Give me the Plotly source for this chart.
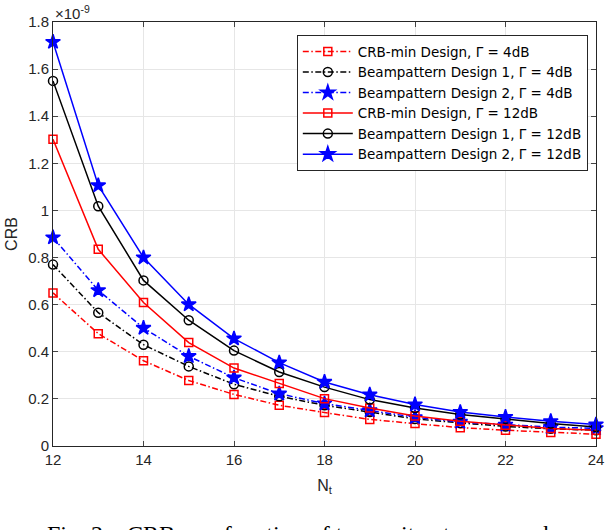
import plotly.graph_objects as go

# Number of transmit antennas
nt = [12, 13, 14, 15, 16, 17, 18, 19, 20, 21, 22, 23, 24]

# CRB values (x 1e-9)
crb_min_4db = [0.650, 0.477, 0.362, 0.278, 0.219, 0.173, 0.142, 0.113, 0.095, 0.078, 0.067, 0.057, 0.050]
bp1_4db     = [0.770, 0.566, 0.430, 0.338, 0.262, 0.211, 0.173, 0.144, 0.115, 0.098, 0.083, 0.073, 0.067]
bp2_4db     = [0.885, 0.661, 0.501, 0.381, 0.290, 0.222, 0.180, 0.151, 0.122, 0.102, 0.090, 0.080, 0.075]
crb_min_12db = [1.302, 0.835, 0.609, 0.439, 0.331, 0.265, 0.201, 0.161, 0.127, 0.105, 0.088, 0.074, 0.067]
bp1_12db     = [1.550, 1.018, 0.703, 0.534, 0.405, 0.314, 0.250, 0.197, 0.161, 0.134, 0.115, 0.095, 0.081]
bp2_12db     = [1.715, 1.106, 0.800, 0.601, 0.456, 0.354, 0.272, 0.218, 0.176, 0.144, 0.123, 0.105, 0.091]

y_ticks = [0, 0.2, 0.4, 0.6, 0.8, 1.0, 1.2, 1.4, 1.6, 1.8]
x_ticks = [12, 14, 16, 18, 20, 22, 24]

DASHDOT = "6px,2.5px,1.5px,2.5px"
series = [
    ("CRB-min Design, Γ = 4dB", crb_min_4db, "red", DASHDOT, "square-open", 8),
    ("Beampattern Design 1, Γ = 4dB", bp1_4db, "black", DASHDOT, "circle-open", 9),
    ("Beampattern Design 2, Γ = 4dB", bp2_4db, "blue", DASHDOT, "star", 11),
    ("CRB-min Design, Γ = 12dB", crb_min_12db, "red", "solid", "square-open", 8),
    ("Beampattern Design 1, Γ = 12dB", bp1_12db, "black", "solid", "circle-open", 9),
    ("Beampattern Design 2, Γ = 12dB", bp2_12db, "blue", "solid", "star", 11),
]

fig = go.Figure()
for name, vals, color, dash, sym, size in series:
    fig.add_trace(go.Scatter(
        x=nt, y=vals, name=name, mode="lines+markers",
        line=dict(color=color, dash=dash, width=1.5),
        marker=dict(symbol=sym, size=size, color=color,
                    line=dict(color=color, width=1.5)),
        cliponaxis=False,
    ))

axis_color = "#262626"
fig.update_layout(
    width=606, height=530,
    margin=dict(l=53, r=10, t=22, b=84, autoexpand=False),
    paper_bgcolor="white", plot_bgcolor="white",
    font=dict(family="Liberation Sans, Arial, sans-serif", size=15, color=axis_color),
    showlegend=True,
    legend=dict(
        x=0.449, y=0.969, xanchor="left", yanchor="top",
        bgcolor="white", bordercolor=axis_color, borderwidth=1,
        font=dict(family="DejaVu Sans, sans-serif", size=13.5, color="#000000"),
        itemwidth=50, tracegroupgap=0,
    ),
    xaxis=dict(
        range=[12, 24], tickvals=x_ticks, ticks="inside", ticklen=5,
        showline=True, linecolor=axis_color, linewidth=1, mirror="ticks",
        showgrid=True, gridcolor="#e6e6e6", zeroline=False, automargin=False,
        title=dict(text="N<sub>t</sub>", font=dict(size=16), standoff=12),
        tickfont=dict(size=15),
    ),
    yaxis=dict(
        range=[0, 1.8], tickvals=y_ticks, ticks="inside", ticklen=5,
        showline=True, linecolor=axis_color, linewidth=1, mirror="ticks",
        showgrid=True, gridcolor="#e6e6e6", zeroline=False, automargin=False,
        title=dict(text="CRB", font=dict(size=16), standoff=6),
        tickfont=dict(size=15),
    ),
)

fig.add_annotation(
    x=0, y=1, xref="paper", yref="paper", xanchor="left", yanchor="bottom",
    text="×10<sup>-9</sup>", showarrow=False, font=dict(size=15, color=axis_color),
    xshift=0, yshift=-2,
)

fig.add_annotation(
    x=0, y=-0.173, xref="paper", yref="paper", xanchor="left", yanchor="top",
    xshift=-8,
    text="Fig. 2.   CRB as a function of transmit antenna number.",
    showarrow=False, font=dict(family="Liberation Serif, Times New Roman, serif", size=24, color="#000000"),
)

fig.write_html(
    "out.html",
    config={"displayModeBar": False},
    post_script="document.body.style.margin='0';document.body.style.overflow='hidden';",
)
